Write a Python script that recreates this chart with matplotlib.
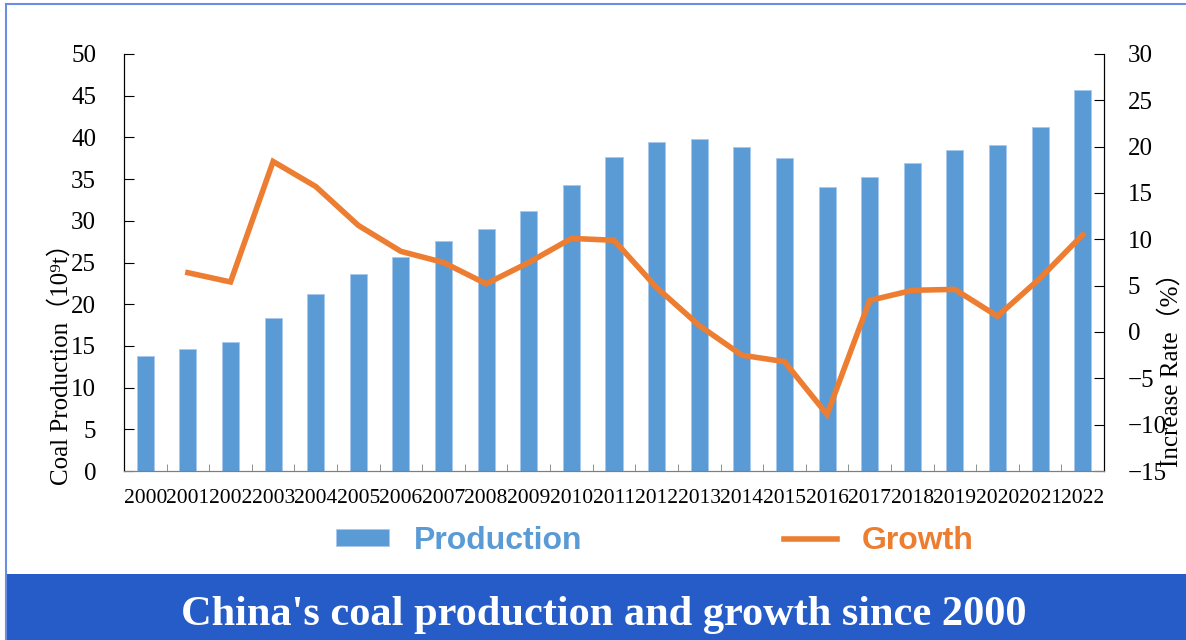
import numpy as np
import matplotlib
matplotlib.use("Agg")
import matplotlib.pyplot as plt
from matplotlib.patches import Rectangle
from matplotlib.lines import Line2D

years = [str(y) for y in range(2000, 2023)]
production = [13.8, 14.6, 15.5, 18.3, 21.2, 23.6, 25.7, 27.6, 29.0, 31.2, 34.3, 37.7,
              39.5, 39.8, 38.8, 37.5, 34.1, 35.3, 36.9, 38.5, 39.1, 41.3, 45.7]
growth_years = years[1:]
growth = [6.4, 5.4, 18.4, 15.7, 11.5, 8.7, 7.5, 5.2, 7.5, 10.1, 9.9, 4.8,
          0.7, -2.5, -3.2, -8.9, 3.4, 4.5, 4.6, 1.7, 5.8, 10.5]

BLUE = "#5B9BD5"
ORANGE = "#ED7D31"
serif = ["Liberation Serif", "DejaVu Serif", "Noto Sans CJK SC"]

fig = plt.figure(figsize=(11.86, 6.4), dpi=100)
ax = fig.add_axes([124 / 1186, 1 - 471 / 640, 980 / 1186, 417 / 640])
ax2 = ax.twinx()

x = np.arange(len(years))
bars = ax.bar(x, production, width=0.4, color=BLUE, edgecolor="#A8C9EC", linewidth=0.6, zorder=2)
gx = np.array([years.index(y) for y in growth_years])
line, = ax2.plot(gx, growth, color=ORANGE, lw=4, solid_joinstyle="miter", zorder=3)

ax.set_xlim(-0.5, len(years) - 0.5)
ax.set_ylim(0, 50)
ax.set_yticks(range(0, 51, 5))
ax2.set_ylim(-15, 30)
ax2.set_yticks(range(-15, 31, 5))

ax.set_xticks(x)
ax.set_xticklabels(years, fontfamily=serif, fontsize=15.5)
ax.set_xticks(np.arange(0.5, len(years) - 1, 1), minor=True)
ax.tick_params(axis="x", which="major", length=0, pad=13)
ax.tick_params(axis="x", which="minor", direction="in", length=5, color="#7F7F7F")
ax.tick_params(axis="y", direction="in", length=7, pad=20, labelsize=18)
ax2.tick_params(axis="y", direction="in", length=7, pad=17, labelsize=18)
for t in ax.get_yticklabels() + ax2.get_yticklabels():
    t.set_fontfamily(serif)
for t in ax2.get_yticklabels():
    t.set_horizontalalignment("left")

for a in (ax, ax2):
    a.spines["top"].set_visible(False)
    a.spines["left"].set_color("black")
    a.spines["right"].set_color("black")
    a.spines["bottom"].set_color("#7F7F7F")
ax.set_zorder(ax2.get_zorder() - 1)
ax2.patch.set_visible(False)

fig.text(61 / 1186, 1 - 358 / 640, "Coal Production（10⁹t）", rotation=90,
         ha="center", va="center", fontsize=18, family=serif)
fig.text(1171 / 1186, 1 - 364 / 640, "Increase Rate（%）", rotation=90,
         ha="center", va="center", fontsize=18, family=serif)

# legend below the plot
leg = fig.legend([bars, line], ["Production", "Growth"], ncol=2, loc="center",
                 bbox_to_anchor=(655 / 1186, 1 - 541 / 640), frameon=False,
                 prop={"family": "Liberation Sans", "weight": "bold", "size": 23},
                 handlelength=1.65, handleheight=0.45, handletextpad=0.8, columnspacing=6.3)
for txt, c in zip(leg.get_texts(), [BLUE, ORANGE]):
    txt.set_color(c)

# frame and title banner
fig.add_artist(Line2D([6 / 1186, 1], [1 - 4 / 640, 1 - 4 / 640], transform=fig.transFigure,
                      color="#6A8EE0", lw=1.5))
fig.add_artist(Line2D([6 / 1186, 6 / 1186], [0, 1 - 4 / 640], transform=fig.transFigure,
                      color="#6A8EE0", lw=1.5))
fig.add_artist(Rectangle((6 / 1186, 0), 1, 66 / 640, transform=fig.transFigure,
                         facecolor="#255CC8", edgecolor="none"))
fig.text(604 / 1186, 1 - 625 / 640, "China's coal production and growth since 2000",
         ha="center", va="baseline", color="white", fontsize=30.5, fontweight="bold",
         family=serif)

fig.savefig("out.png", dpi=100)
